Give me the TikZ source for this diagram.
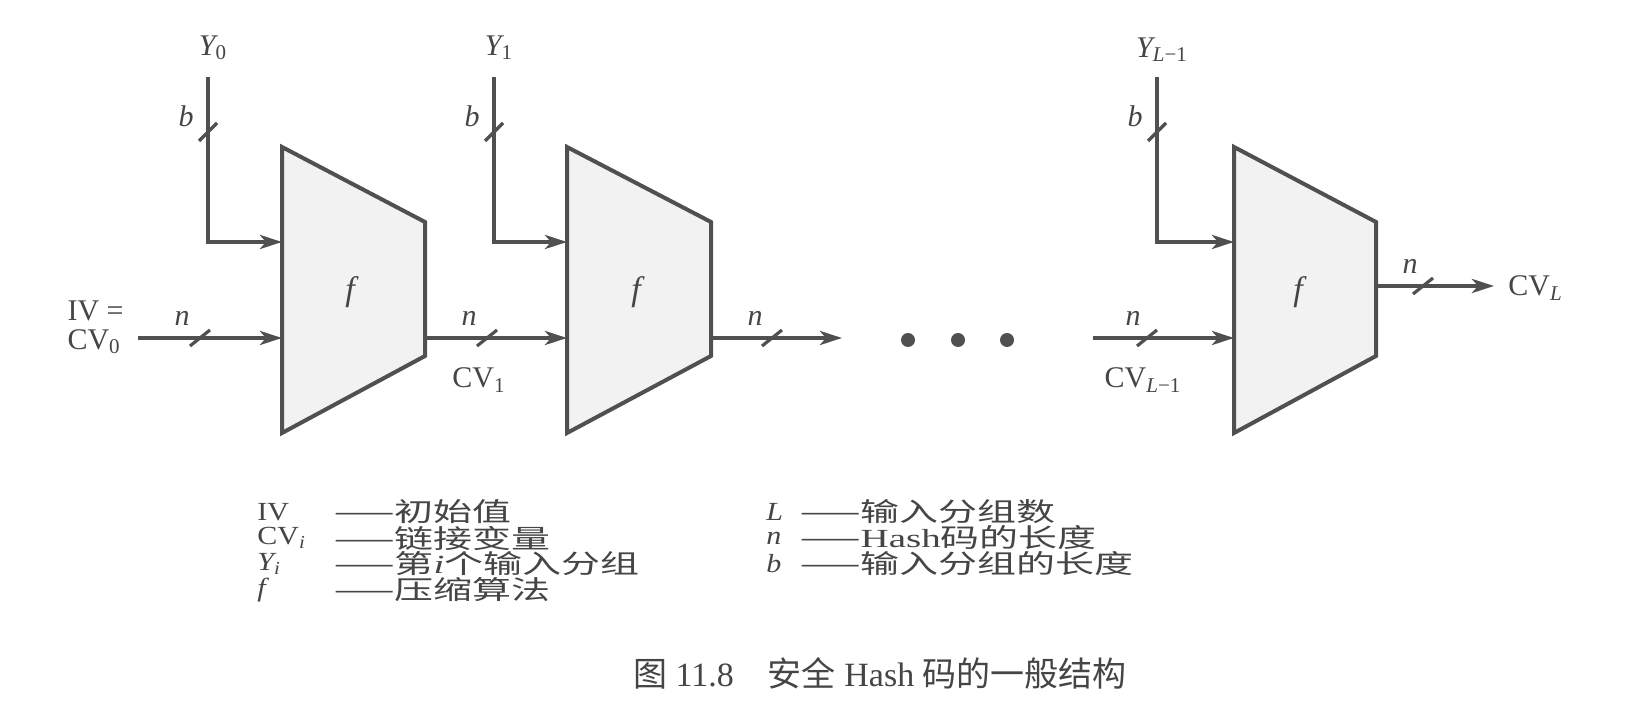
\documentclass[tikz,border=0pt]{standalone}
\usepackage{graphicx}
\usepackage{fontspec}
\setmainfont{Liberation Serif}
\newfontfamily\cjk{Noto Sans CJK SC}
\usetikzlibrary{arrows.meta}
\definecolor{ink}{HTML}{505050}
\definecolor{txt}{HTML}{454545}
\definecolor{boxfill}{HTML}{F2F2F2}
\newcommand{\legw}[1]{\scalebox{1.3}[0.87]{#1}}
\newcommand{\legd}{\scalebox{1.2}[0.87]{\cjk ——}}
\newcommand{\legk}[1]{\scalebox{1}[0.87]{#1}}
\tikzset{
  wire/.style={draw=ink, line width=2pt, -{Stealth[length=11pt,width=7pt,inset=3pt]}},
  tick/.style={draw=ink, line width=1.6pt},
  lab/.style={text=txt, font=\fontsize{15}{14.5}\selectfont, inner sep=0pt},
  leg/.style={text=txt, font=\fontsize{15}{15}\selectfont, inner sep=0pt, anchor=west},
  comp/.style={draw=ink, line width=2pt, fill=boxfill, line join=miter},
  dot/.style={circle, fill=ink, inner sep=0pt, minimum size=7pt},
}
\begin{document}
\begin{tikzpicture}[x=0.5pt,y=-0.5pt]
\useasboundingbox (0,0) rectangle (1628,726);
% compression blocks
\draw[comp] (282,147) -- (425,222) -- (425,356) -- (282,433) -- cycle;
\draw[comp] (567,147) -- (711,222) -- (711,356) -- (567,433) -- cycle;
\draw[comp] (1234,147) -- (1376,222) -- (1376,356) -- (1234,433) -- cycle;
\node[lab, font=\fontsize{17}{17}\selectfont] (f1) at (350,292) {\itshape f};
\node[lab, font=\fontsize{17}{17}\selectfont] (f2) at (636,292) {\itshape f};
\node[lab, font=\fontsize{17}{17}\selectfont] (f3) at (1298,292) {\itshape f};
% ports
\coordinate (f1a) at (282,242); \coordinate (f1b) at (282,338); \coordinate (f1o) at (425,338);
\coordinate (f2a) at (567,242); \coordinate (f2b) at (567,338); \coordinate (f2o) at (711,338);
\coordinate (f3a) at (1234,242); \coordinate (f3b) at (1234,338); \coordinate (f3o) at (1376,286);
% block inputs Y
\coordinate (y0t) at (208,77);
\coordinate (y1t) at (494,77);
\coordinate (y2t) at (1157,77);
\draw[wire] (y0t) |- (f1a);
\draw[wire] (y1t) |- (f2a);
\draw[wire] (y2t) |- (f3a);
\draw[tick] (199,141) -- (217,123);
\draw[tick] (485,141) -- (503,123);
\draw[tick] (1148,141) -- (1166,123);
\node[lab] (Y0) at (213,48) {\itshape Y\textsubscript{\upshape 0}};
\node[lab] (Y1) at (499,48) {\itshape Y\textsubscript{\upshape 1}};
\node[lab] (Y2) at (1162,50) {\itshape Y\textsubscript{L\upshape −1}};
\node[lab] (b0) at (186,116) {\itshape b};
\node[lab] (b1) at (472,116) {\itshape b};
\node[lab] (b2) at (1135,116) {\itshape b};
% chaining inputs
\coordinate (ivs) at (138,338);
\coordinate (o2) at (842,338);
\coordinate (cvin) at (1093,338);
\coordinate (cvL) at (1494,286);
\draw[wire] (ivs) -- (f1b);
\draw[wire] (f1o) -- (f2b);
\draw[wire] (f2o) -- (o2);
\draw[wire] (cvin) -- (f3b);
\draw[wire] (f3o) -- (cvL);
\draw[tick] (190,346) -- (210,330);
\draw[tick] (477,346) -- (497,330);
\draw[tick] (762,346) -- (782,330);
\draw[tick] (1137,346) -- (1157,330);
\draw[tick] (1413,294) -- (1433,278);
\node[lab] (n0) at (182,318) {\itshape n};
\node[lab] (n1) at (469,318) {\itshape n};
\node[lab] (n2) at (755,318) {\itshape n};
\node[lab] (n3) at (1133,318) {\itshape n};
\node[lab] (n4) at (1410,266) {\itshape n};
\node[lab, align=left, anchor=east] (iv) at (124,327) {IV =\\CV\textsubscript{0}};
\node[lab] (cv1) at (479,380) {CV\textsubscript{1}};
\node[lab] (cvl1) at (1143,380) {CV\textsubscript{\itshape L\upshape −1}};
\node[lab, anchor=west] (cvl) at (1508,288) {CV\textsubscript{\itshape L}};
% dots
\node[dot] (d1) at (908,340) {};
\node[dot] (d2) at (958,340) {};
\node[dot] (d3) at (1007,340) {};
% legend
\node[leg] (k1) at (257,512) {\legk{IV}};
\node[leg] (k2) at (257,538) {\legk{CV\textsubscript{\itshape i}}};
\node[leg] (k3) at (257,564) {\legk{\itshape Y\textsubscript{i}}};
\node[leg] (k4) at (257,590) {\legk{\itshape f}};
\node[leg] (t1) at (334,512) {\legd\legw{\cjk 初始值}};
\node[leg] (t2) at (334,538) {\legd\legw{\cjk 链接变量}};
\node[leg] (t3) at (334,564) {\legd\legw{{\cjk 第}\textit{i}{\cjk 个输入分组}}};
\node[leg] (t4) at (334,590) {\legd\legw{\cjk 压缩算法}};
\node[leg] (k5) at (766,512) {\legk{\itshape L}};
\node[leg] (k6) at (766,538) {\legk{\itshape n}};
\node[leg] (k7) at (766,564) {\legk{\itshape b}};
\node[leg] (t5) at (800,512) {\legd\legw{\cjk 输入分组数}};
\node[leg] (t6) at (800,538) {\legd\legw{Hash{\cjk 码的长度}}};
\node[leg] (t7) at (800,564) {\legd\legw{\cjk 输入分组的长度}};
% caption
\node[text=txt, font=\fontsize{17}{17}\selectfont, inner sep=0pt] (cap) at (880,673)
  {{\cjk 图} 11.8\quad{\cjk 安全} Hash {\cjk 码的一般结构}};
\end{tikzpicture}
\end{document}
